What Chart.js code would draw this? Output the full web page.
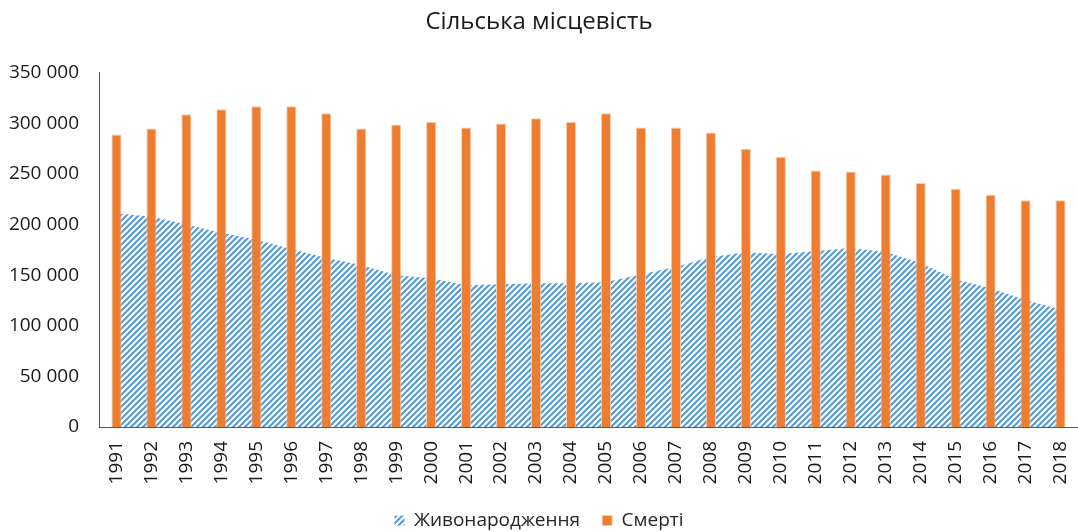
<!DOCTYPE html>
<html>
<head>
<meta charset="utf-8">
<script src="https://cdn.jsdelivr.net/npm/chart.js@4.4.1/dist/chart.umd.min.js"></script>
<style>
  html, body { margin: 0; padding: 0; background: #fff; }
  #chart { display: block; }
</style>
</head>
<body>
<canvas id="chart" width="1078" height="532"></canvas>
<script>
// values
const years = ["1991", "1992", "1993", "1994", "1995", "1996", "1997", "1998", "1999", "2000",
  "2001", "2002", "2003", "2004", "2005", "2006", "2007", "2008", "2009", "2010",
  "2011", "2012", "2013", "2014", "2015", "2016", "2017", "2018"];

const births = [211000, 208000, 200000, 192000, 185000, 176000, 167000, 160000, 150000, 147000,
  140000, 141000, 142000, 142000, 143000, 151000, 158000, 168000, 172500, 171000,
  174000, 177000, 173000, 162000, 146000, 137000, 125500, 116000];

const deaths = [289000, 295000, 309000, 314000, 317000, 317000, 310000, 295000, 299000, 301500,
  296000, 300000, 305000, 301500, 310000, 296000, 296000, 291000, 275000, 267000,
  253500, 252500, 249500, 241000, 235500, 229500, 224000, 224000];

const yTicks = [0, 50000, 100000, 150000, 200000, 250000, 300000, 350000];

const seriesNames = ["Живонародження", "Смерті"];

// hatch pattern for the births area
function makeHatch() {
  const c = document.createElement("canvas");
  c.width = 6;
  c.height = 6;
  const g = c.getContext("2d");
  g.strokeStyle = "#5B9BD5";
  g.lineWidth = 2.2;
  g.beginPath();
  g.moveTo(-1, 7); g.lineTo(7, -1);
  g.moveTo(-1, 1); g.lineTo(1, -1);
  g.moveTo(5, 7); g.lineTo(7, 5);
  g.stroke();
  return g.createPattern(c, "repeat");
}

const hatch = makeHatch();
const fmt = v => String(v).replace(/\B(?=(\d{3})+(?!\d))/g, " ");
const font = "'Open Sans', 'DejaVu Sans', sans-serif";

new Chart(document.getElementById("chart"), {
  data: {
    labels: years,
    datasets: [
      {
        type: "line",
        label: seriesNames[0],
        data: births,
        fill: "origin",
        backgroundColor: hatch,
        borderWidth: 0,
        borderColor: "rgba(0,0,0,0)",
        pointRadius: 0,
        tension: 0,
        order: 2
      },
      {
        type: "bar",
        label: seriesNames[1],
        data: deaths,
        backgroundColor: "#ED7D31",
        borderColor: "#F8CBAD",
        borderWidth: 1,
        barPercentage: 0.29,
        categoryPercentage: 1,
        order: 1
      }
    ]
  },
  options: {
    responsive: false,
    devicePixelRatio: 1,
    animation: false,
    layout: { padding: { left: 0, right: 0, top: 0, bottom: -8 } },
    plugins: {
      title: {
        display: true,
        text: "Сільська місцевість",
        color: "#1a1a1a",
        font: { family: font, size: 24, weight: "normal" },
        padding: { top: 8, bottom: 36 }
      },
      legend: {
        position: "bottom",
        labels: {
          boxWidth: 10,
          boxHeight: 10,
          padding: 22,
          color: "#262626",
          font: { family: font, size: 19 },
          sort: (a, b) => a.datasetIndex - b.datasetIndex
        }
      },
      tooltip: { enabled: false }
    },
    scales: {
      x: {
        offset: true,
        grid: { display: false },
        border: { display: true, color: "#595959", width: 1 },
        ticks: {
          color: "#1a1a1a",
          font: { family: font, size: 19 },
          minRotation: 90,
          maxRotation: 90,
          padding: 6,
          autoSkip: false
        },
        afterFit: s => { s.height = 62; s.paddingLeft = 0; s.paddingRight = 0; }
      },
      y: {
        min: 0,
        max: 350000,
        grid: { display: false },
        border: { display: true, color: "#595959", width: 1 },
        afterBuildTicks: s => { s.ticks = yTicks.map(v => ({ value: v })); },
        ticks: {
          color: "#1a1a1a",
          font: { family: font, size: 19 },
          padding: 12,
          callback: v => fmt(v)
        },
        afterFit: s => { s.width = 99; }
      }
    }
  }
});
</script>
</body>
</html>
